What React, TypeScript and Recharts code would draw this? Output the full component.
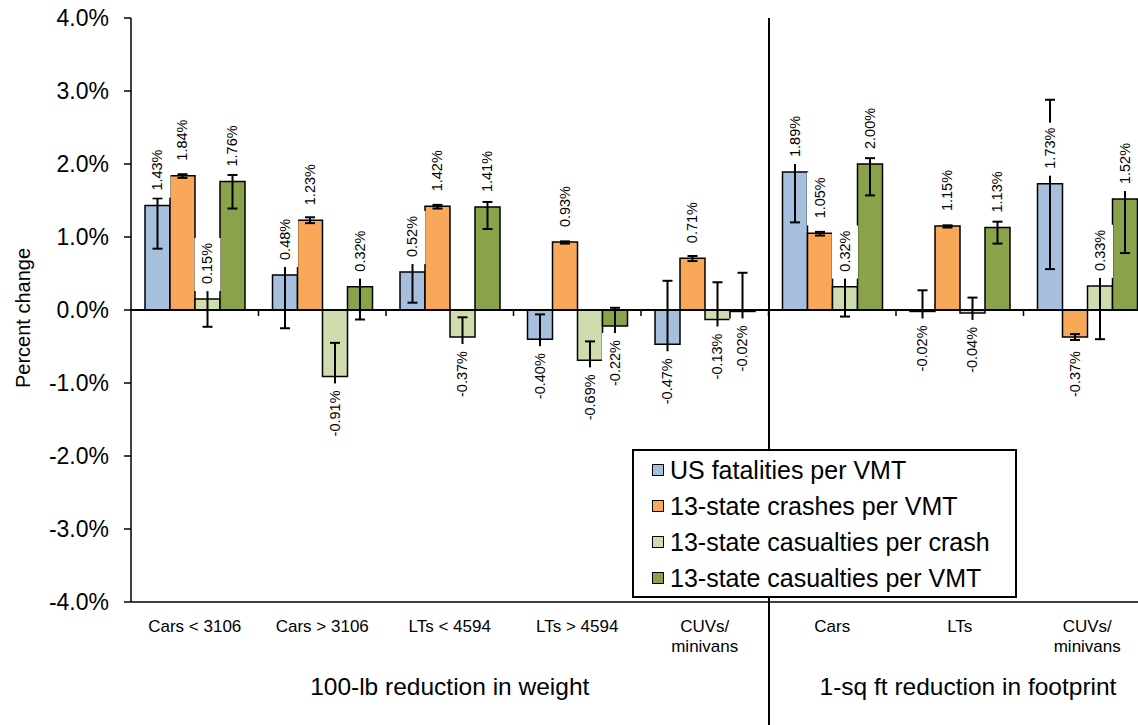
import { Bar, BarChart, ErrorBar, Label, LabelList, ReferenceLine, XAxis, YAxis } from "recharts";

const categories = [
  "Cars < 3106",
  "Cars > 3106",
  "LTs < 4594",
  "LTs > 4594",
  "CUVs/\nminivans",
  "Cars",
  "LTs",
  "CUVs/\nminivans",
];
const groupTitles = ["100-lb reduction in weight", "1-sq ft reduction in footprint"];
const seriesNames = [
  "US fatalities per VMT",
  "13-state crashes per VMT",
  "13-state casualties per crash",
  "13-state casualties per VMT",
];
const seriesColors = ["#A6BFDD", "#F9A85A", "#CFDDAE", "#8AA24A"];

const fatalities = [1.43, 0.48, 0.52, -0.4, -0.47, 1.89, -0.02, 1.73];
const crashes = [1.84, 1.23, 1.42, 0.93, 0.71, 1.05, 1.15, -0.37];
const perCrash = [0.15, -0.91, -0.37, -0.69, -0.13, 0.32, -0.04, 0.33];
const perVmt = [1.76, 0.32, 1.41, -0.22, -0.02, 2.0, 1.13, 1.52];

// error bar bounds [low, high], in percent
const fatalitiesCI = [[0.84, 1.53], [-0.25, 1.21], [0.1, 0.94], [-0.74, -0.06], [-1.3, 0.4], [1.2, 2.58], [-0.31, 0.27], [0.56, 2.88]];
const crashesCI = [[1.81, 1.86], [1.19, 1.27], [1.39, 1.44], [0.91, 0.94], [0.67, 0.74], [1.02, 1.07], [1.13, 1.16], [-0.41, -0.33]];
const perCrashCI = [[-0.23, 0.53], [-1.37, -0.45], [-0.64, -0.1], [-0.95, -0.43], [-0.64, 0.38], [-0.09, 0.73], [-0.25, 0.17], [-0.4, 1.06]];
const perVmtCI = [[1.39, 1.85], [-0.13, 0.77], [1.11, 1.48], [-0.47, 0.03], [-0.55, 0.51], [1.57, 2.08], [0.91, 1.21], [0.78, 2.26]];

const yTicks = [-4, -3, -2, -1, 0, 1, 2, 3, 4];

const series = [fatalities, crashes, perCrash, perVmt];
const bounds = [fatalitiesCI, crashesCI, perCrashCI, perVmtCI];

const data = categories.map((_, i) => {
  const row: Record<string, any> = { id: `c${i}` };
  series.forEach((vals, s) => {
    const v = vals[i];
    const [lo, hi] = bounds[s][i];
    row[`s${s}`] = v;
    row[`e${s}`] = [v - lo, hi - v];
  });
  return row;
});

const FONT = '"Liberation Sans", Arial, sans-serif';
const CHART_W = 1160;
const CHART_H = 725;
const PLOT_LEFT = 131;
const PLOT_TOP = 18;
const PLOT_W = 1020;
const PLOT_H = 584;
const PLOT_BOTTOM = PLOT_TOP + PLOT_H;
const BAND = PLOT_W / categories.length;
const ZERO_Y = PLOT_TOP + PLOT_H / 2;
const LABEL_FONT = 14.5;

function textLen(s: string, size: number) {
  let w = 0;
  for (const ch of s) w += ch === "." ? 0.278 : ch === "%" ? 0.889 : ch === "-" ? 0.333 : 0.556;
  return w * size;
}

function ValueLabel(props: any) {
  const box = props.viewBox ?? props;
  const { x, y, width, height } = box;
  const v = Number(props.value);
  const text = `${v.toFixed(2)}%`;
  const cx = x + width / 2;
  const top = Math.min(y, y + height);
  const bottom = Math.max(y, y + height);
  const len = textLen(text, LABEL_FONT);
  const up = v >= 0;
  const ay = up ? top - 15 : bottom + 14;
  const ry = up ? ay - len - 5 : ay - 7;
  return (
    <g>
      <rect x={cx - 13} y={ry} width={26} height={len + 12} fill="#fff" />
      <text
        x={cx}
        y={ay}
        transform={`rotate(-90 ${cx} ${ay})`}
        textAnchor={up ? "start" : "end"}
        dominantBaseline="central"
        fontSize={LABEL_FONT}
        fill="#000"
      >
        {text}
      </text>
    </g>
  );
}

function CategoryTick(props: any) {
  const { x, index } = props;
  const lines = categories[index].split("\n");
  const left = x - BAND / 2;
  return (
    <g>
      {index > 0 && (
        <line x1={left} x2={left} y1={ZERO_Y} y2={ZERO_Y + 6} stroke="#000" strokeWidth={1.5} />
      )}
      <text x={x} y={PLOT_BOTTOM + 30} textAnchor="middle" fontSize={17} fill="#000">
        {lines.map((l, i) => (
          <tspan key={i} x={x} dy={i === 0 ? 0 : 20}>
            {l}
          </tspan>
        ))}
      </text>
    </g>
  );
}

export default function App() {
  return (
    <div
      style={{
        position: "absolute",
        left: 0,
        top: 0,
        width: 1138,
        height: 725,
        overflow: "hidden",
        background: "#fff",
        fontFamily: FONT,
        color: "#000",
      }}
    >
      <div
        style={{
          position: "absolute",
          left: PLOT_LEFT + 5 * BAND - 1,
          top: PLOT_TOP,
          width: 2,
          height: CHART_H - PLOT_TOP,
          background: "#000",
        }}
      />
      <BarChart
        width={CHART_W}
        height={CHART_H}
        data={data}
        margin={{ top: PLOT_TOP, right: CHART_W - PLOT_LEFT - PLOT_W, bottom: 0, left: 0 }}
        barGap={0}
      >
        <XAxis
          dataKey="id"
          height={CHART_H - PLOT_BOTTOM}
          interval={0}
          tickLine={false}
          axisLine={{ stroke: "#000", strokeWidth: 1.5 }}
          tick={(p: any) => <CategoryTick {...p} />}
        />
        <XAxis xAxisId="lbl" dataKey="id" hide />
        <YAxis
          width={PLOT_LEFT}
          domain={[-4, 4]}
          ticks={yTicks}
          allowDataOverflow
          tickFormatter={(v: number) => `${v.toFixed(1)}%`}
          axisLine={{ stroke: "#000", strokeWidth: 1.5 }}
          tickLine={{ stroke: "#000", strokeWidth: 1.5 }}
          tickSize={7}
          tickMargin={15}
          tick={{ fill: "#000", fontSize: 23 }}
        >
          <Label
            content={() => (
              <text
                x={23}
                y={318}
                transform="rotate(-90 23 318)"
                textAnchor="middle"
                dominantBaseline="central"
                fontSize={20}
                fill="#000"
              >
                Percent change
              </text>
            )}
          />
        </YAxis>
        {seriesNames.map((name, s) => (
          <Bar
            key={name}
            dataKey={`s${s}`}
            name={name}
            barSize={25}
            fill={seriesColors[s]}
            stroke="#000"
            strokeWidth={1.5}
            isAnimationActive={false}
          >
            <ErrorBar dataKey={`e${s}`} direction="y" width={5} stroke="#000" strokeWidth={2} />
          </Bar>
        ))}
        <ReferenceLine y={0} stroke="#000" strokeWidth={2} />
        {seriesNames.map((name, s) => (
          <Bar
            key={`lbl-${name}`}
            xAxisId="lbl"
            dataKey={`s${s}`}
            barSize={25}
            fill="transparent"
            legendType="none"
            isAnimationActive={false}
          >
            <LabelList dataKey={`s${s}`} content={(p: any) => <ValueLabel {...p} />} />
          </Bar>
        ))}
      </BarChart>
      <div
        style={{
          position: "absolute",
          left: 632,
          top: 449,
          width: 385,
          boxSizing: "border-box",
          border: "2px solid #000",
          background: "#fff",
          padding: "1px 0 0 18px",
        }}
      >
        {seriesNames.map((name, s) => (
          <div
            key={name}
            style={{ display: "flex", alignItems: "center", height: 36, fontSize: 25, whiteSpace: "nowrap" }}
          >
            <span
              style={{
                display: "inline-block",
                width: 12,
                height: 12,
                boxSizing: "border-box",
                border: "1.5px solid #000",
                background: seriesColors[s],
                marginRight: 6,
              }}
            />
            {name}
          </div>
        ))}
      </div>
      {groupTitles.map((t, g) => (
        <div
          key={t}
          style={{
            position: "absolute",
            left: (g === 0 ? PLOT_LEFT + 2.5 * BAND : 968) - 250,
            top: 675,
            width: 500,
            textAlign: "center",
            fontSize: 24.5,
            lineHeight: "24.5px",
            whiteSpace: "nowrap",
          }}
        >
          {t}
        </div>
      ))}
    </div>
  );
}
